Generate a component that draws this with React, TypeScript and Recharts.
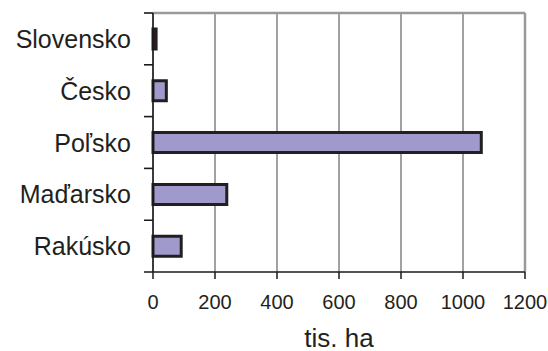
import { Bar, BarChart, CartesianGrid, Cell, ReferenceLine, XAxis, YAxis } from "recharts";

const countries = ["Slovensko", "Česko", "Poľsko", "Maďarsko", "Rakúsko"];
const areas = [10, 43, 1059, 238, 91];
const barColors = ["#8c1c2a", "#9f99cc", "#9f99cc", "#9f99cc", "#9f99cc"];
const xTicks = [0, 200, 400, 600, 800, 1000, 1200];

const data = countries.map((name, i) => ({ name, value: areas[i] }));

const FONT = "Liberation Sans, Arial, sans-serif";
const W = 548;
const H = 351;
const M_TOP = 13;
const X_AXIS_H = 79;
const PLOT_H = H - M_TOP - X_AXIS_H;

function CountryTick(props: any) {
  const { x, y, payload, index } = props;
  // tick marks sit on band edges, not centres
  const half = PLOT_H / countries.length / 2;
  const tx = Number(x);
  const ty = Number(y);
  const last = index === countries.length - 1;
  const d = `M${tx - 9},${ty - half}H${tx}` + (last ? `M${tx - 9},${ty + half}H${tx}` : "");
  return (
    <g>
      <path d={d} stroke="#1a1a1a" strokeWidth={1.6} fill="none" />
      <text
        x={tx - 22}
        y={ty}
        dy="0.36em"
        textAnchor="end"
        fontSize={25}
        fontFamily={FONT}
        fill="#231f20"
      >
        {payload.value}
      </text>
    </g>
  );
}

export default function App() {
  return (
    <div style={{ position: "absolute", left: 0, top: 0, background: "#fff" }}>
      <BarChart
        width={W}
        height={H}
        data={data}
        layout="vertical"
        margin={{ top: M_TOP, right: 23, left: 0, bottom: 0 }}
      >
        <CartesianGrid horizontal={false} vertical stroke="#444" strokeWidth={1} />
        <XAxis
          type="number"
          domain={[0, 1200]}
          ticks={xTicks}
          interval={0}
          height={X_AXIS_H}
          tickSize={7}
          tickMargin={16}
          axisLine={{ stroke: "#1a1a1a", strokeWidth: 1.5 }}
          tickLine={{ stroke: "#1a1a1a", strokeWidth: 1.5 }}
          tick={{ fontSize: 20, fill: "#231f20", fontFamily: FONT }}
          label={{
            value: "tis. ha",
            position: "insideBottom",
            offset: 4,
            fontSize: 26,
            fill: "#231f20",
            fontFamily: FONT,
          }}
        />
        <YAxis
          type="category"
          dataKey="name"
          width={153}
          interval={0}
          tickSize={0}
          tickMargin={0}
          tickLine={false}
          axisLine={{ stroke: "#1a1a1a", strokeWidth: 1.5 }}
          tick={CountryTick}
        />
        <ReferenceLine x={1200} stroke="#9a9a9a" strokeWidth={2.5} />
        <ReferenceLine y={countries[0]} position="start" stroke="#9a9a9a" strokeWidth={2.5} />
        <Bar
          dataKey="value"
          barSize={20}
          stroke="#231f20"
          strokeWidth={3}
          isAnimationActive={false}
        >
          {data.map((d, i) => (
            <Cell key={d.name} fill={barColors[i]} />
          ))}
        </Bar>
      </BarChart>
    </div>
  );
}
